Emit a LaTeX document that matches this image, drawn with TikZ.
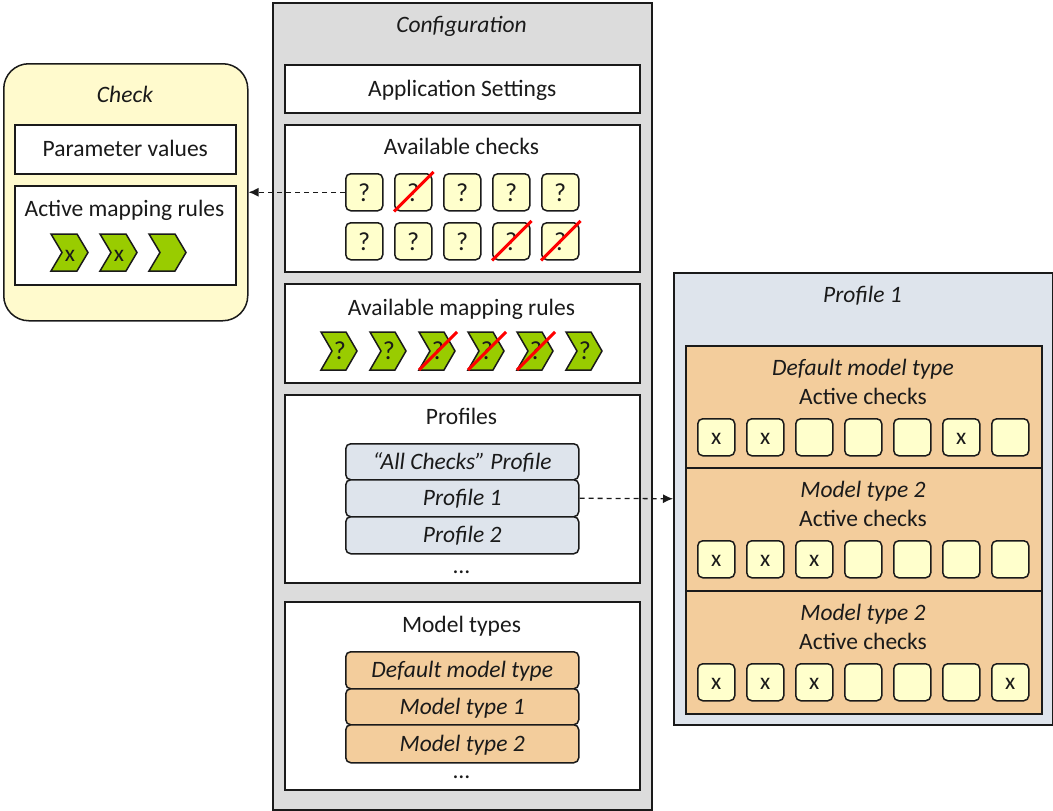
\documentclass[tikz,border=0pt]{standalone}
\usepackage{fontspec}
\setmainfont{Carlito}
\usetikzlibrary{arrows.meta}
\definecolor{cfggray}{HTML}{DCDCDC}
\definecolor{chkyellow}{HTML}{FFFACD}
\definecolor{boxyellow}{HTML}{FFFFCC}
\definecolor{rulegreen}{HTML}{99CC00}
\definecolor{profblue}{HTML}{DEE4EC}
\definecolor{mtorange}{HTML}{F3CD9C}
\definecolor{ink}{HTML}{1A1A1A}
\newcommand{\qm}{{\fontsize{26}{28}\selectfont\vphantom{A}?}}
\begin{document}
\begin{tikzpicture}[x=1pt,y=-1pt,
  every node/.style={font=\fontsize{23.5}{27}\selectfont, text=ink, inner sep=0pt},
  it/.style={font=\fontsize{23.5}{27}\selectfont\itshape},
  ttl/.style={text height=15pt, text depth=0pt},
  frame/.style={draw=ink, line width=1.5pt, rectangle, anchor=north west, inner sep=0pt},
  qbox/.style={frame, fill=boxyellow, rounded corners=5pt, minimum width=37pt, minimum height=37pt, text depth=0pt},
  entry/.style={frame, rounded corners=5pt, minimum width=233pt, it, ttl},
  chev/.style={draw=ink, line width=1.5pt, fill=rulegreen, line join=miter},
  strike/.style={draw=red, line width=3pt},
  dasharrow/.style={draw=ink, line width=1.3pt, dash pattern=on 5pt off 4pt, -{Latex[length=10pt,width=9pt]}},
  lbl/.style={text depth=0pt}
]
\useasboundingbox (0,0) rectangle (1053,811);

% ---------------- Configuration ----------------
\node[frame, fill=cfggray, minimum width=379pt, minimum height=807pt] (cfg) at (272,2) {};
\node[it, ttl] (cfgT) at (461.5,25) {Configuration};
\node[frame, fill=white, minimum width=355pt, minimum height=48pt, ttl] (app) at (284,64) {Application Settings};

% Available checks
\node[frame, fill=white, minimum width=355pt, minimum height=147pt] (avc) at (284,124) {};
\node[ttl] (avcT) at (461.5,147) {Available checks};
\foreach \r/\y in {1/173,2/222}{
  \foreach \c in {1,...,5}{
    \node[qbox] (ac-\r-\c) at ({345+49*(\c-1)},\y) {\qm};
  }
}
\foreach \r/\c in {1/2,2/4,2/5}{
  \draw[strike] (ac-\r-\c.south west) -- ([xshift=1pt,yshift=1pt]ac-\r-\c.north east);
}

% Available mapping rules
\node[frame, fill=white, minimum width=355pt, minimum height=99pt] (avm) at (284,283) {};
\node[ttl] (avmT) at (461.5,308) {Available mapping rules};
\foreach \c in {1,...,6}{
  \pgfmathsetmacro{\xx}{321+49*(\c-1)}
  \draw[chev] (\xx,332) -- ++(25,0) -- ++(11,19) -- ++(-11,19) -- ++(-25,0) -- ++(11,-19) -- cycle;
  \node[lbl] (mr-\c) at (\xx+19,351) {\qm};
}
\foreach \c in {3,4,5}{
  \pgfmathsetmacro{\xx}{321+49*(\c-1)}
  \draw[strike] (\xx,370) -- (\xx+38,332);
}

% Profiles
\node[frame, fill=white, minimum width=355pt, minimum height=188pt] (prof) at (284,394) {};
\node[ttl] (profT) at (461.5,417) {Profiles};
\node[entry, fill=profblue, minimum height=36pt] (pr0) at (345,443) {“All Checks” Profile};
\node[entry, fill=profblue, minimum height=37pt] (pr1) at (345,479) {Profile 1};
\node[entry, fill=profblue, minimum height=37pt] (pr2) at (345,516) {Profile 2};
\node[lbl] (prdots) at (461.5,572) {…};

% Model types
\node[frame, fill=white, minimum width=355pt, minimum height=188pt] (mt) at (284,601) {};
\node[ttl] (mtT) at (461.5,625) {Model types};
\node[entry, fill=mtorange, minimum height=37pt] (mt0) at (345,651) {Default model type};
\node[entry, fill=mtorange, minimum height=36pt] (mt1) at (345,688) {Model type 1};
\node[entry, fill=mtorange, minimum height=38pt] (mt2) at (345,724) {Model type 2};
\node[lbl] (mtdots) at (461.5,777) {…};

% ---------------- Check ----------------
\node[frame, fill=chkyellow, rounded corners=25pt, minimum width=244pt, minimum height=257pt] (check) at (3,63) {};
\node[it, ttl] (checkT) at (125,95) {Check};
\node[frame, fill=white, minimum width=221pt, minimum height=49pt, ttl] (param) at (14,124) {Parameter values};
\node[frame, fill=white, minimum width=221pt, minimum height=99pt] (amr) at (14,185) {};
\node[ttl] (amrT) at (124.5,209) {Active mapping rules};
\foreach \c/\t in {1/x,2/x,3/{}}{
  \pgfmathsetmacro{\xx}{51+49*(\c-1)}
  \draw[chev] (\xx,234) -- ++(26,0) -- ++(11,18.5) -- ++(-11,18.5) -- ++(-26,0) -- ++(11,-18.5) -- cycle;
  \node[lbl] (cr-\c) at (\xx+19,254) {\vphantom{A}\t};
}

% ---------------- Profile 1 panel ----------------
\node[frame, fill=profblue, minimum width=379pt, minimum height=452pt] (panel) at (673,272) {};
\node[it, ttl] (panelT) at (862.5,295) {Profile 1};
\foreach \s/\y/\h/\name/\marks in {
   1/345/122/{Default model type}/{x,x,,,,x,},
   2/467/123/{Model type 2}/{x,x,x,,,,},
   3/590/123/{Model type 2}/{x,x,x,,,,x}}{
  \node[frame, fill=mtorange, minimum width=356pt, minimum height=\h pt] (sec-\s) at (685,\y) {};
  \node[it, ttl] (secT-\s) at (863,\y+23) {\name};
  \node[ttl] (secA-\s) at (863,\y+51.5) {Active checks};
  \foreach \m [count=\k] in \marks {
    \node[qbox] (pc-\s-\k) at ({697+49*(\k-1)},\y+73) {\vphantom{A}\m};
  }
}

% ---------------- connectors ----------------
\draw[dasharrow] (ac-1-1.west) -- (check.east);
\draw[dasharrow] (pr1.east) -- (panel.west);
\end{tikzpicture}
\end{document}
